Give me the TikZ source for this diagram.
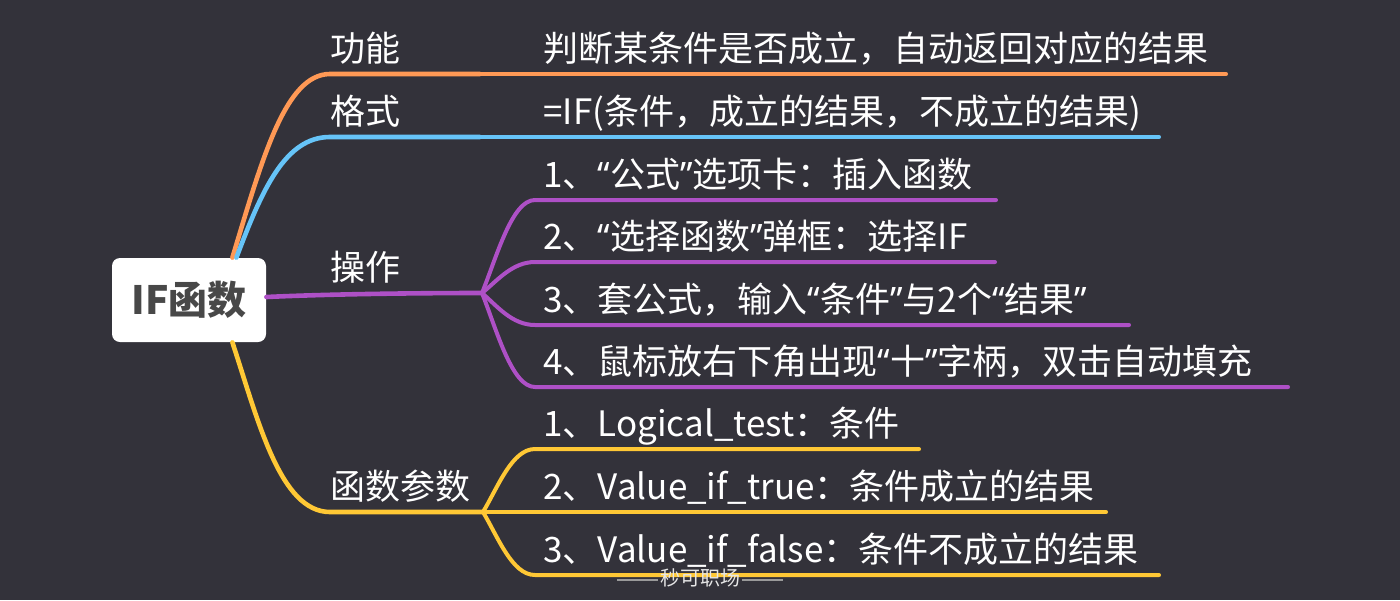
\documentclass[tikz,border=0pt]{standalone}
\usepackage{fontspec}
\setmainfont{Noto Sans CJK SC}
\newfontfamily\latq{Noto Sans}
\newcommand{\myLQ}{{\latq “}}
\newcommand{\myRQ}{{\latq ”}}
\usetikzlibrary{calc}
\definecolor{bgc}{HTML}{33323A}
\definecolor{orc}{HTML}{FF9955}
\definecolor{blc}{HTML}{66C4F8}
\definecolor{puc}{HTML}{AE50C6}
\definecolor{yec}{HTML}{FFC835}
\definecolor{rootc}{HTML}{484848}
\definecolor{wmc}{HTML}{E6E6E6}
\definecolor{wml}{HTML}{9A9A9A}
\begin{document}
\begin{tikzpicture}[x=0.5pt,y=-0.5pt,
  br/.style={line width=2.3pt,line cap=round},
  ch/.style={line width=2pt,line cap=round},
  lab/.style={anchor=base west,inner sep=0pt,text=white,font=\fontsize{17.5pt}{20pt}\selectfont},
  rootbox/.style={fill=white,rounded corners=4pt,minimum width=77pt,minimum height=42pt,inner sep=0pt,text=rootc,font=\fontsize{19.5pt}{22pt}\selectfont\bfseries}]
\fill[bgc] (0,0) rectangle (1400,600);
\useasboundingbox (0,0) rectangle (1400,600);

% junctions and ends
\coordinate (oj) at (480,74);   \coordinate (oe) at (1226,74);
\coordinate (bj) at (480,137);  \coordinate (be) at (1159,137);
\coordinate (pj) at (482,293);
\coordinate (pe1) at (996,200); \coordinate (pe2) at (995,262);
\coordinate (pe3) at (1129,325); \coordinate (pe4) at (1288,387);
\coordinate (yj) at (483,512);
\coordinate (ye1) at (919,449); \coordinate (ye2) at (1106,512); \coordinate (ye3) at (1159,575);

\node[rootbox] (root) at (189,300) {IF函数};

% main branches
\draw[br,orc] ($(root.north east)+(-34,0)$) .. controls (262,160) and (285,74) .. (330,74) -- (oj);
\draw[br,blc] ($(root.north east)+(-30,0)$) .. controls (262,190) and (285,137) .. (330,137) -- (bj);
\draw[br,puc] ($(root.east)+(0,-3)$) .. controls (330,294) and (420,293) .. (pj);
\draw[br,yec] ($(root.south east)+(-34,0)$) .. controls (258,420) and (280,512) .. (330,512) -- (yj);

% children
\draw[ch,orc] (oj) -- (oe);
\draw[ch,blc] (bj) -- (be);
\draw[ch,puc] (pj) .. controls (497,256) and (512,200) .. (535,200) -- (pe1);
\draw[ch,puc] (pj) .. controls (497,281) and (512,262) .. (535,262) -- (pe2);
\draw[ch,puc] (pj) .. controls (497,306) and (512,325) .. (535,325) -- (pe3);
\draw[ch,puc] (pj) .. controls (497,331) and (512,387) .. (535,387) -- (pe4);
\draw[ch,yec] (yj) .. controls (498,487) and (512,449) .. (535,449) -- (ye1);
\draw[ch,yec] (yj) -- (ye2);
\draw[ch,yec] (yj) .. controls (498,537) and (512,575) .. (535,575) -- (ye3);

% labels
\node[lab] (l1) at (330,61) {功能};
\node[lab] (l2) at (330,124) {格式};
\node[lab] (l3) at (330,280) {操作};
\node[lab] (l4) at (330,499) {函数参数};

\node[lab] (t1) at (543,61) {判断某条件是否成立，自动返回对应的结果};
\node[lab] (t2) at (543,124) {=IF(条件，成立的结果，不成立的结果)};
\node[lab] (p1) at (543,187) {1、\myLQ 公式\myRQ 选项卡：插入函数};
\node[lab] (p2) at (543,249) {2、\myLQ 选择函数\myRQ 弹框：选择IF};
\node[lab] (p3) at (543,312) {3、套公式，输入\myLQ 条件\myRQ 与2个\myLQ 结果\myRQ};
\node[lab] (p4) at (543,374) {4、鼠标放右下角出现\myLQ 十\myRQ 字柄，双击自动填充};
\node[lab] (y1) at (543,436) {1、Logical\_test：条件};
\node[lab] (y2) at (543,499) {2、Value\_if\_true：条件成立的结果};
\node[lab] (y3) at (543,562) {3、Value\_if\_false：条件不成立的结果};

% watermark
\node[inner sep=1pt,text=wmc,font=\fontsize{10pt}{12pt}\selectfont] (wm) at (700,578) {秒可职场};
\coordinate (wl) at (617,580); \coordinate (wr) at (783,580);
\draw[wml,line width=0.7pt] (wl) -- (wm.west |- wl);
\draw[wml,line width=0.7pt] (wm.east |- wr) -- (wr);
\end{tikzpicture}
\end{document}
